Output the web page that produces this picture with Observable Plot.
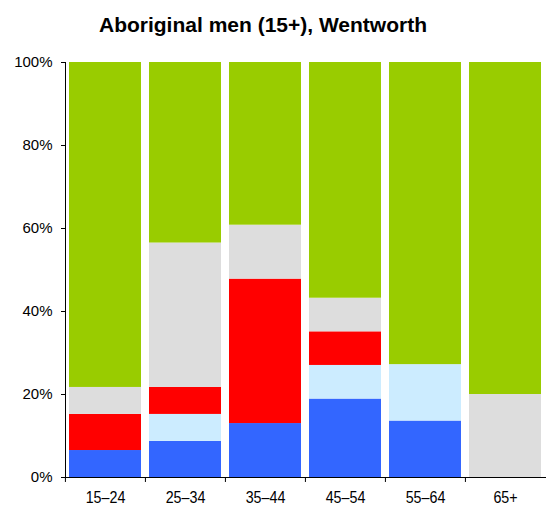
<!DOCTYPE html>
<html>
<head>
<meta charset="utf-8">
<script src="https://cdn.jsdelivr.net/npm/d3@7"></script>
<script src="https://cdn.jsdelivr.net/npm/@observablehq/plot@0.6"></script>
<style>
  html, body { margin: 0; padding: 0; background: #fff; }
  #title {
    height: 44px; box-sizing: border-box; padding-top: 13px;
    width: 526px; text-align: center;
    font-family: "Liberation Sans", Arial, sans-serif; font-weight: bold; font-size: 21px;
    line-height: normal; color: #000;
  }
</style>
</head>
<body>
<div id="title">Aboriginal men (15+), Wentworth</div>
<div id="chart"></div>
<script>
const ages = ["15–24", "25–34", "35–44", "45–54", "55–64", "65+"];
const statuses = ["Employed full-time", "Employed part-time", "Unemployed", "Not stated", "Not in labour force"];
const colors = ["#3366FF", "#CCECFF", "#FF0000", "#DDDDDD", "#99CC00"];
const fullTime   = [6.5, 8.7, 13.0, 18.9, 13.6, 0];
const partTime   = [0, 6.5, 0, 8.1, 13.6, 0];
const unemployed = [8.7, 6.5, 34.8, 8.1, 0, 0];
const notStated  = [6.5, 34.8, 13.0, 8.1, 0, 20.0];
const notInLF    = [78.3, 43.5, 39.2, 56.8, 72.8, 80.0];
const yTicks = [0, 20, 40, 60, 80, 100];

const series = [fullTime, partTime, unemployed, notStated, notInLF];
const data = [];
ages.forEach((age, i) => {
  statuses.forEach((s, j) => data.push({age, status: s, value: series[j][i]}));
});

const W = 546, ML = 65, MR = 0;
const step = (W - ML - MR) / ages.length;

const chart = Plot.plot({
  width: W,
  height: 462,
  marginTop: 18,
  marginBottom: 29,
  marginLeft: ML,
  marginRight: MR,
  style: {fontFamily: "'Liberation Sans', Arial, sans-serif", fontSize: "15px", color: "#000", background: "#fff"},
  x: {domain: ages, paddingInner: 0.095, paddingOuter: 0.0475, align: 0.5, label: null},
  y: {domain: [0, 100], label: null},
  color: {domain: statuses, range: colors},
  marks: [
    Plot.rectY(data, Plot.stackY({x: "age", y: "value", fill: "status", order: statuses})),
    Plot.axisY({ticks: yTicks, tickFormat: d => d + "%", tickSize: 4, tickPadding: 9, fontSize: 15, label: null}),
    Plot.axisX({tickSize: 0, tickPadding: 13, fontSize: 17, label: null}),
    Plot.ruleX(ages, {x: d => d, y1: 0, y2: -1.2, dx: -step / 2, stroke: "#000"}),
    Plot.frame({anchor: "left", stroke: "#000"}),
    Plot.frame({anchor: "bottom", stroke: "#000"})
  ]
});
// condensed look of the category labels
d3.select(chart).selectAll('g[aria-label="x-axis tick label"] text').each(function() {
  const t = this.getAttribute("transform") || "";
  this.setAttribute("transform", t + " scale(0.84,1)");
});
document.getElementById("chart").appendChild(chart);
</script>
</body>
</html>
